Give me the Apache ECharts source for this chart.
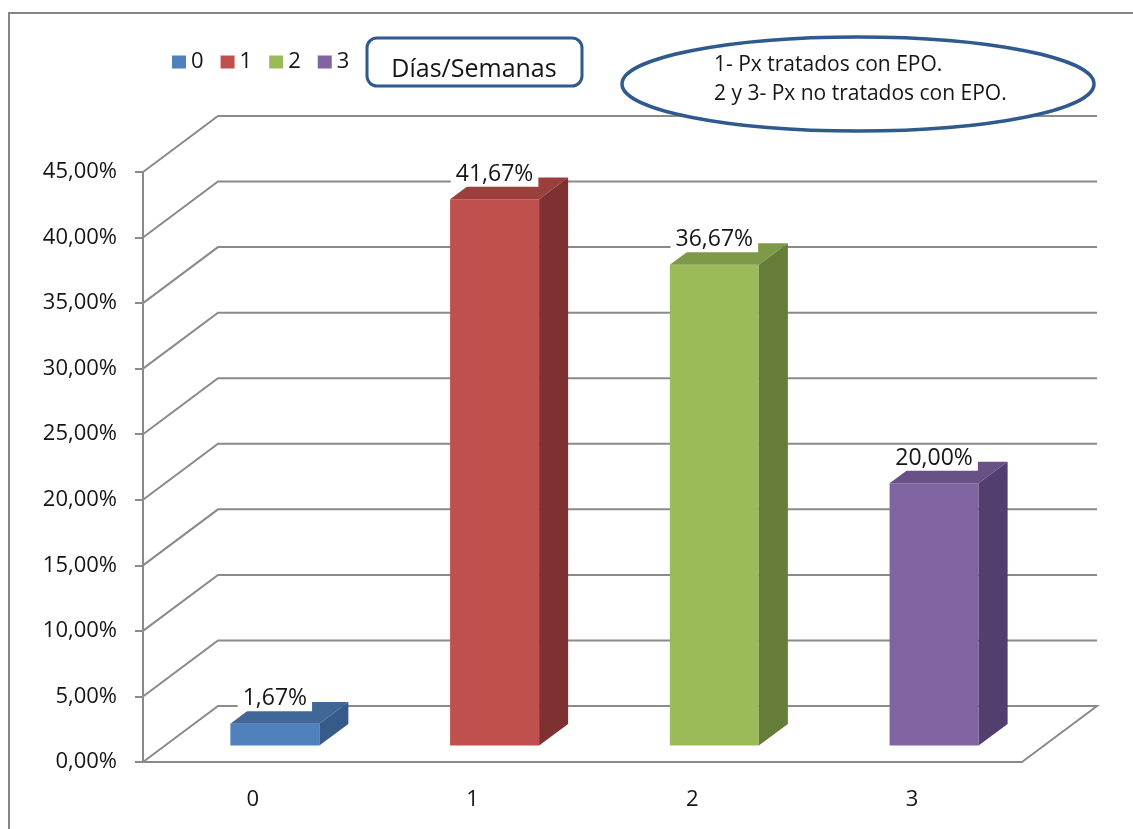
<!DOCTYPE html>
<html>
<head>
<meta charset="utf-8">
<script src="https://cdn.jsdelivr.net/npm/echarts@6/dist/echarts.min.js"></script>
<style>
  html, body { margin: 0; padding: 0; background: #fff; }
  #chart { width: 1133px; height: 829px; }
</style>
</head>
<body>
<div id="chart"></div>
<script>
// Share of patients (%) by days/weeks group
const categories = ['0', '1', '2', '3'];
const values = [1.67, 41.67, 36.67, 20.00];
const yTicks = [0, 5, 10, 15, 20, 25, 30, 35, 40, 45];

const faceColors = ['#4F81BD', '#C0504D', '#9BBB59', '#8064A2'];
const topColors  = ['#3F6898', '#9B3F3C', '#7E9A48', '#675187'];
const sideColors = ['#375B88', '#7E3130', '#667D3A', '#533F6F'];

const boxTitle = 'Días/Semanas';
const noteLines = ['1- Px tratados con EPO.', '2 y 3- Px no tratados con EPO.'];

const FONT = '"Open Sans", sans-serif';
const TEXT = '#151515';
const GRAY = '#8a8a8a';
const BLUE_LINE = '#2F5A8E';
const DEPTH = [75, -56];          // front plane -> back wall offset
const FRONT = 0.293, BACK = 0.68; // depth position of bar faces
const HALF = 0.2025;              // half bar width, fraction of band

function pct(v) { return v.toFixed(2).replace('.', ',') + '%'; }

// Back wall gridlines, side wall diagonals and floor outline
function renderWall(params, api) {
  const v = api.value(1);
  const bw = api.size([1, 0])[0];
  const p0 = api.coord([0, v]);
  const pN = api.coord([categories.length - 1, v]);
  const xl = p0[0] - bw / 2, xr = pN[0] + bw / 2, y = p0[1];
  const pts = [[xl, y], [xl + DEPTH[0], y + DEPTH[1]], [xr + DEPTH[0], y + DEPTH[1]]];
  if (v === 0) pts.push([xr, y]);
  return {
    type: 'polyline',
    shape: { points: pts },
    style: { stroke: GRAY, lineWidth: 2, fill: null }
  };
}

// Box-shaped column with front, top and side faces plus value label
function renderBar(params, api) {
  const i = api.value(0), v = api.value(1);
  const bw = api.size([1, 0])[0];
  const top = api.coord([i, v]), base = api.coord([i, 0]);
  const fx = DEPTH[0] * FRONT, fy = DEPTH[1] * FRONT;
  const sx = DEPTH[0] * (BACK - FRONT), sy = DEPTH[1] * (BACK - FRONT);
  const x0 = top[0] - bw * HALF + fx, x1 = top[0] + bw * HALF + fx;
  const yt = top[1] + fy, yb = base[1] + fy;
  return {
    type: 'group',
    children: [
      { type: 'polygon', shape: { points: [[x0, yt], [x1, yt], [x1, yb], [x0, yb]] },
        style: { fill: faceColors[i] } },
      { type: 'polygon', shape: { points: [[x0, yt], [x1, yt], [x1 + sx, yt + sy], [x0 + sx, yt + sy]] },
        style: { fill: topColors[i] } },
      { type: 'polygon', shape: { points: [[x1, yt], [x1 + sx, yt + sy], [x1 + sx, yb + sy], [x1, yb]] },
        style: { fill: sideColors[i] } },
      { type: 'text', z2: 10,
        style: { text: pct(v), x: (x0 + x1) / 2, y: yt - 25, align: 'center', verticalAlign: 'middle',
                 fill: TEXT, font: '23px "Open Sans", sans-serif', backgroundColor: '#fff', padding: [1, 5] } }
    ]
  };
}

const chart = echarts.init(document.getElementById('chart'), null, { renderer: 'canvas' });

const barSeries = categories.map((c, i) => ({
  name: c,
  type: 'custom',
  renderItem: renderBar,
  itemStyle: { color: faceColors[i] },
  data: [[i, values[i]]],
  z: 5
}));

chart.setOption({
  animation: false,
  textStyle: { fontFamily: FONT },
  legend: {
    left: 167, top: 46,
    icon: 'rect', itemWidth: 14, itemHeight: 13, itemGap: 17,
    textStyle: { fontSize: 22, color: TEXT, fontFamily: FONT },
    data: categories
  },
  grid: { left: 143, right: 111, top: 172, bottom: 67 },
  xAxis: {
    type: 'category',
    data: categories,
    axisLine: { lineStyle: { color: GRAY, width: 2 } },
    axisTick: { length: 8, lineStyle: { color: GRAY, width: 2 } },
    axisLabel: { margin: 27, fontSize: 22, color: TEXT, fontFamily: FONT },
    splitLine: { show: false }
  },
  yAxis: {
    type: 'value',
    min: 0, max: 45, interval: 5,
    axisLine: { show: true, lineStyle: { color: GRAY, width: 2 } },
    axisTick: { show: true, length: 8, lineStyle: { color: GRAY, width: 2 } },
    axisLabel: { margin: 26, fontSize: 22, color: TEXT, fontFamily: FONT, formatter: v => pct(v) },
    splitLine: { show: false }
  },
  series: [
    {
      name: 'wall',
      type: 'custom',
      renderItem: renderWall,
      data: yTicks.map(t => [0, t]),
      silent: true,
      z: 1
    }
  ].concat(barSeries),
  graphic: [
    { type: 'rect', z: 0, silent: true,
      shape: { x: 9, y: 13, width: 1140, height: 840 },
      style: { fill: null, stroke: '#868686', lineWidth: 2 } },
    { type: 'rect', z: 100,
      shape: { x: 367, y: 38, width: 215, height: 48, r: 10 },
      style: { fill: '#fff', stroke: BLUE_LINE, lineWidth: 3 } },
    { type: 'text', z: 101,
      style: { text: boxTitle, x: 474, y: 70, align: 'center', verticalAlign: 'middle',
               fill: TEXT, font: '25px "Open Sans", sans-serif' } },
    { type: 'ellipse', z: 100,
      shape: { cx: 858, cy: 84, rx: 236, ry: 47 },
      style: { fill: '#fff', stroke: BLUE_LINE, lineWidth: 3.5 } },
    { type: 'text', z: 101,
      style: { text: noteLines[0], x: 714, y: 65, verticalAlign: 'middle',
               fill: TEXT, font: '21px "Open Sans", sans-serif' } },
    { type: 'text', z: 101,
      style: { text: noteLines[1], x: 714, y: 94, verticalAlign: 'middle',
               fill: TEXT, font: '21px "Open Sans", sans-serif' } }
  ]
});
</script>
</body>
</html>
